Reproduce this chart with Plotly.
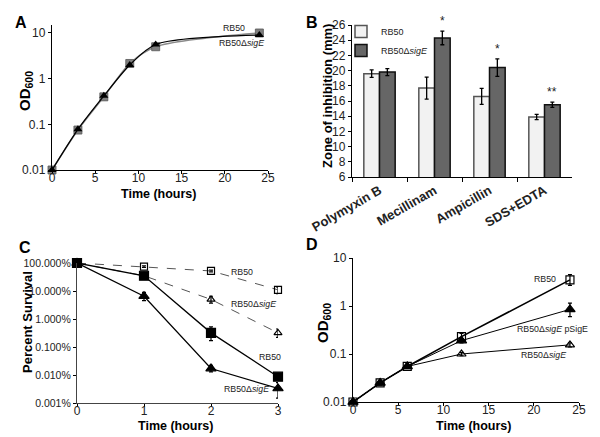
import plotly.graph_objects as go

# ---------------- data ----------------
# Panel A: growth curves
a_time = [0, 3, 6, 9, 12, 24]
a_rb50 = [0.01, 0.075, 0.40, 2.15, 5.0, 10.0]
a_sige = [0.01, 0.078, 0.42, 2.0, 5.6, 9.0]

# Panel B: zone of inhibition
b_cats = ["Polymyxin B", "Mecillinam", "Ampicillin", "SDS+EDTA"]
b_rb50 = [19.6, 17.7, 16.6, 13.9]
b_rb50_err = [0.5, 1.45, 1.05, 0.35]
b_sige = [19.8, 24.3, 20.4, 15.5]
b_sige_err = [0.45, 0.9, 1.15, 0.35]
b_stars = ["", "*", "*", "**"]

# Panel C: percent survival
c_time = [0, 1, 2, 3]
c_rb50_solid = [100, 35, 0.32, 0.0087]
c_rb50_solid_up = [0, 8, 0.2, 0.002]
c_rb50_solid_dn = [0, 8, 0.15, 0.002]
c_sige_solid = [100, 6.5, 0.017, 0.0033]
c_sige_solid_up = [0, 2.5, 0.005, 0.002]
c_sige_solid_dn = [0, 2.0, 0.004, 0.0018]
c_rb50_dash = [100, 74, 52, 11]
c_rb50_dash_up = [0, 5, 4, 3]
c_rb50_dash_dn = [0, 5, 4, 3]
c_sige_dash = [100, 35, 5.0, 0.32]
c_sige_dash_up = [0, 4, 1.5, 0.12]
c_sige_dash_dn = [0, 4, 1.3, 0.1]
c_ticks = [0.001, 0.01, 0.1, 1, 10, 100]
c_ticktext = ["0.001%", "0.010%", "0.100%", "1.000%", "10.000%", "100.000%"]

# Panel D: growth curves
d_time = [0, 3, 6, 12, 24]
d_rb50 = [0.01, 0.025, 0.055, 0.23, 3.5]
d_rb50_up = [0, 0.002, 0.004, 0.04, 1.0]
d_rb50_dn = [0, 0.002, 0.004, 0.035, 0.8]
d_psig = [0.01, 0.025, 0.055, 0.19, 0.85]
d_psig_up = [0, 0.002, 0.004, 0.02, 0.3]
d_psig_dn = [0, 0.002, 0.004, 0.02, 0.25]
d_sige = [0.01, 0.025, 0.055, 0.10, 0.155]
d_sige_up = [0, 0.002, 0.004, 0.008, 0.015]
d_sige_dn = [0, 0.002, 0.004, 0.008, 0.015]

# ---------------- figure ----------------
W, H = 600, 437
OFF = 8  # page body margin
FONT = "Liberation Sans, Arial, sans-serif"
TXT = "#222222"


def dx(p):
    return (p - OFF) / W


def dy(p):
    return 1 - (p - OFF) / H


fig = go.Figure()

# Panel A
fig.add_trace(go.Scatter(x=a_time, y=a_rb50, mode="lines+markers", line=dict(color="#8a8a8a", width=1.5, shape="spline", smoothing=0.8),
                         marker=dict(symbol="square", size=8, color="#7f7f7f", line=dict(color="#555", width=0.8)),
                         xaxis="x", yaxis="y", showlegend=False, cliponaxis=False))
fig.add_trace(go.Scatter(x=a_time, y=a_sige, mode="lines+markers", line=dict(color="black", width=1.3, shape="spline", smoothing=0.8),
                         marker=dict(symbol="triangle-up", size=8, color="black"),
                         xaxis="x", yaxis="y", showlegend=False, cliponaxis=False))

# Panel B
fig.add_trace(go.Bar(x=b_cats, y=b_rb50, name="RB50", marker=dict(color="#f2f2f2", line=dict(color="#555555", width=1.5)),
                     error_y=dict(type="data", array=b_rb50_err, color="black", thickness=1.3, width=2),
                     xaxis="x2", yaxis="y2"))
fig.add_trace(go.Bar(x=b_cats, y=b_sige, name="RB50Δ<i>sigE</i>", marker=dict(color="#666666", line=dict(color="#111111", width=1.5)),
                     error_y=dict(type="data", array=b_sige_err, color="black", thickness=1.3, width=2),
                     xaxis="x2", yaxis="y2"))


# Panel C
def c_trace(y, up, dn, symbol, dash, color, size):
    return go.Scatter(x=c_time, y=y, mode="lines+markers",
                      line=dict(color=color, width=1.3 if dash == "solid" else 1.0, dash=dash),
                      marker=dict(symbol=symbol, size=size, color="black", line=dict(color="black", width=1.2)),
                      error_y=dict(type="data", symmetric=False, array=up, arrayminus=dn, color="black", thickness=1.2, width=2),
                      xaxis="x3", yaxis="y3", showlegend=False, cliponaxis=False)


fig.add_trace(c_trace(c_rb50_dash, c_rb50_dash_up, c_rb50_dash_dn, "square-open", "dash", "#555555", 7))
fig.add_trace(c_trace(c_sige_dash, c_sige_dash_up, c_sige_dash_dn, "triangle-up-open", "dash", "#555555", 7))
fig.add_trace(c_trace(c_sige_solid, c_sige_solid_up, c_sige_solid_dn, "triangle-up", "solid", "black", 9))
fig.add_trace(c_trace(c_rb50_solid, c_rb50_solid_up, c_rb50_solid_dn, "square", "solid", "black", 9))


# Panel D
def d_trace(y, up, dn, symbol, width, size):
    return go.Scatter(x=d_time, y=y, mode="lines+markers",
                      line=dict(color="black", width=width),
                      marker=dict(symbol=symbol, size=size, color="black", line=dict(color="black", width=1.2)),
                      error_y=dict(type="data", symmetric=False, array=up, arrayminus=dn, color="black", thickness=1.2, width=2),
                      xaxis="x4", yaxis="y4", showlegend=False, cliponaxis=False)


fig.add_trace(d_trace(d_rb50, d_rb50_up, d_rb50_dn, "square-open", 1.6, 8))
fig.add_trace(d_trace(d_sige, d_sige_up, d_sige_dn, "triangle-up-open", 1.0, 8))
fig.add_trace(d_trace(d_psig, d_psig_up, d_psig_dn, "triangle-up", 1.0, 9))

axis_common = dict(showline=True, linecolor="black", linewidth=1.3, ticks="outside", ticklen=3, tickwidth=1,
                   tickcolor="black", showgrid=False, zeroline=False, automargin=False,
                   tickfont=dict(family=FONT, size=12, color=TXT))


def ax(**kw):
    d = dict(axis_common)
    d.update(kw)
    return d


fig.update_layout(
    width=W, height=H, margin=dict(l=0, r=0, t=0, b=0, autoexpand=False),
    paper_bgcolor="white", plot_bgcolor="rgba(0,0,0,0)",
    font=dict(family=FONT, color=TXT),
    barmode="group", bargap=0.43, bargroupgap=0,
    showlegend=True,
    legend=dict(x=dx(341), y=dy(17), xanchor="left", yanchor="top", bgcolor="rgba(0,0,0,0)",
                font=dict(family=FONT, size=9, color=TXT), itemwidth=30, tracegroupgap=0),
    xaxis=ax(domain=[dx(52), dx(268)], anchor="y", range=[0, 25], dtick=5, ticklabelstandoff=-7),
    yaxis=ax(domain=[dy(170), dy(25)], anchor="x", type="log", range=[-2, 1.175],
             tickvals=[0.01, 0.1, 1, 10], ticktext=["0.01", "0.1", "1", "10"]),
    xaxis2=ax(domain=[dx(352), dx(572)], anchor="y2", type="category", range=[-0.5, 3.5],
              tickson="boundaries", tickangle=-30, ticklen=4,
              tickfont=dict(family=FONT, size=13, color=TXT, weight="bold")),
    yaxis2=ax(domain=[dy(177), dy(25)], anchor="x2", range=[6, 26], dtick=2),
    xaxis3=ax(domain=[dx(77), dx(278)], anchor="y3", range=[0, 3], dtick=1, linecolor="#444", ticklabelstandoff=-7),
    yaxis3=ax(domain=[dy(403), dy(263)], anchor="x3", type="log", range=[-3, 2],
              tickvals=c_ticks, ticktext=c_ticktext, linecolor="#444",
              tickfont=dict(family=FONT, size=10.5, color=TXT)),
    xaxis4=ax(domain=[dx(353), dx(579)], anchor="y4", range=[0, 25], dtick=5, ticklabelstandoff=-7),
    yaxis4=ax(domain=[dy(402), dy(258)], anchor="x4", type="log", range=[-2, 1],
              tickvals=[0.01, 0.1, 1, 10], ticktext=["0.01", "0.1", "1", "10"]),
)

ann = []
bold = dict(family=FONT, color="black", weight="bold")
# panel letters
for letter, px, py in [("A", 13, 22), ("B", 304, 22), ("C", 17, 247), ("D", 304, 244)]:
    ann.append(dict(text=letter, x=dx(px), y=dy(py), xref="paper", yref="paper", showarrow=False,
                    xanchor="left", yanchor="middle", font=dict(size=16, **bold)))
# axis titles
titles = [
    ("OD<sub>600</sub>", 26, 91, -90, 15),
    ("Time (hours)", 158, 194, 0, 12.5),
    ("Zone of inhibition (mm)", 327, 96, -90, 13),
    ("Percent Survival", 27, 322, -90, 13),
    ("Time (hours)", 175, 426, 0, 12.5),
    ("OD<sub>600</sub>", 323, 323, -90, 15),
    ("Time (hours)", 473, 426, 0, 12.5),
]
for t, px, py, ang, sz in titles:
    ann.append(dict(text=t, x=dx(px), y=dy(py), xref="paper", yref="paper", showarrow=False,
                    xanchor="center", yanchor="middle", textangle=ang, font=dict(size=sz, **bold)))

small = dict(family=FONT, size=8.8, color=TXT)
# panel A labels
ann.append(dict(text="RB50", x=19.6, y=1.10, xref="x", yref="y", showarrow=False, xanchor="left", font=small))
ann.append(dict(text="RB50Δ<i>sigE</i>", x=19.1, y=0.775, xref="x", yref="y", showarrow=False, xanchor="left", font=small))
# panel B stars
offset = (1 - 0.43) / 4
for i, s in enumerate(b_stars):
    if s:
        ann.append(dict(text=s, x=i + offset, y=b_sige[i] + b_sige_err[i], xref="x2", yref="y2", showarrow=False,
                        yanchor="bottom", yshift=1, font=dict(family=FONT, size=12, color=TXT)))
# panel C labels
ann.append(dict(text="RB50", x=2.27, y=1.68, xref="x3", yref="y3", showarrow=False, xanchor="left", font=small))
ann.append(dict(text="RB50Δ<i>sigE</i>", x=2.27, y=0.546, xref="x3", yref="y3", showarrow=False, xanchor="left", font=small))
ann.append(dict(text="RB50", x=2.68, y=-1.35, xref="x3", yref="y3", showarrow=False, xanchor="left", font=small))
ann.append(dict(text="RB50Δ<i>sigE</i>", x=2.16, y=-2.51, xref="x3", yref="y3", showarrow=False, xanchor="left", font=small))
# panel D labels
ann.append(dict(text="RB50", x=19.8, y=0.556, xref="x4", yref="y4", showarrow=False, xanchor="left", font=small))
ann.append(dict(text="RB50Δ<i>sigE</i> pSigE", x=17.9, y=-0.479, xref="x4", yref="y4", showarrow=False, xanchor="left", font=small))
ann.append(dict(text="RB50Δ<i>sigE</i>", x=18.4, y=-1.02, xref="x4", yref="y4", showarrow=False, xanchor="left", font=small))

fig.update_layout(annotations=ann)
fig.write_html("out.html")
